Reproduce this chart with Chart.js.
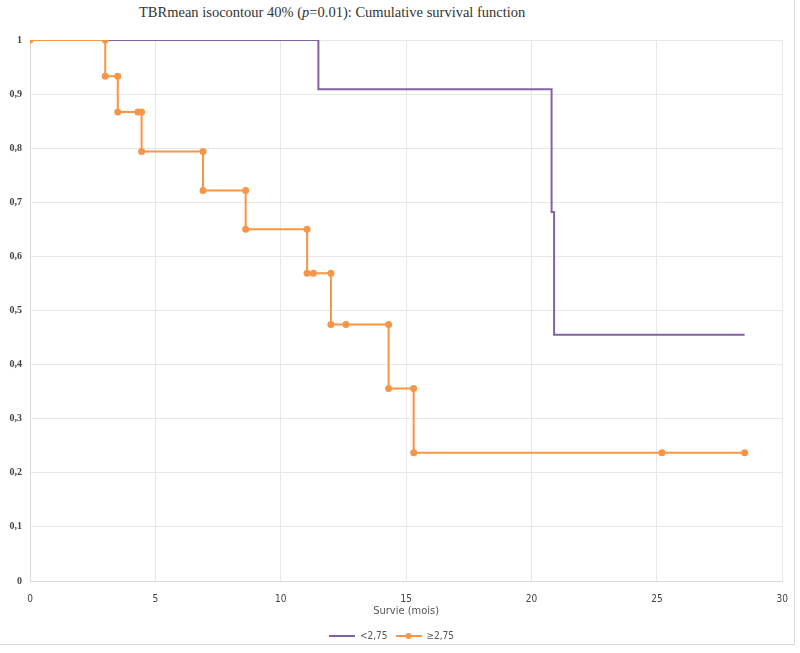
<!DOCTYPE html>
<html>
<head>
<meta charset="utf-8">
<script src="https://cdn.jsdelivr.net/npm/chart.js@4"></script>
<style>
  body { margin: 0; background: #fff; }
  #wrap { position: relative; width: 800px; height: 653px; }
  #frame { position: absolute; left: 0; top: 0; width: 795px; height: 645px; border-right: 1px solid #d9d9d9; border-bottom: 1px solid #d9d9d9; box-sizing: border-box; }
  #title { position: absolute; left: 139px; top: 4px; font-family: "Liberation Serif", "DejaVu Serif", serif; font-size: 14.5px; color: #333; white-space: nowrap; }
  canvas { position: absolute; left: 0; top: 0; }
</style>
</head>
<body>
<div id="wrap">
  <div id="frame"></div>
  <div id="title">TBRmean isocontour 40% (<i>p</i>=0.01): Cumulative survival function</div>
  <canvas id="kmChart" width="800" height="653"></canvas>
</div>
<script>
// Kaplan-Meier steps, corners listed explicitly (months, survival)
const lowTimes = [0, 11.5, 11.5, 20.8, 20.8, 20.9, 20.9, 28.5];
const lowSurv = [1, 1, 0.909, 0.909, 0.682, 0.682, 0.455, 0.455];

const highTimes = [0, 3.0, 3.0, 3.5, 3.5, 4.3, 4.45, 4.45, 6.9, 6.9, 8.6, 8.6, 11.05, 11.05, 11.3, 12.0, 12.0, 12.6, 14.3, 14.3, 15.3, 15.3, 25.2, 28.5];
const highSurv = [1, 1, 0.933, 0.933, 0.867, 0.867, 0.867, 0.794, 0.794, 0.722, 0.722, 0.65, 0.65, 0.569, 0.569, 0.569, 0.474, 0.474, 0.474, 0.356, 0.356, 0.237, 0.237, 0.237];

const seriesLabels = ['<2,75', '\u22652,75'];
const seriesColors = ['#8064A2', '#F79646'];

function toPoints(xs, ys) {
    return xs.map((x, i) => ({ x: x, y: ys[i] }));
}

// little legend swatches: plain line, and line with a dot
function makeSwatch(color, withDot) {
    const c = document.createElement('canvas');
    c.width = 26;
    c.height = 8;
    const g = c.getContext('2d');
    g.strokeStyle = color;
    g.lineWidth = 2;
    g.beginPath();
    g.moveTo(0, 4);
    g.lineTo(26, 4);
    g.stroke();
    if (withDot) {
        g.fillStyle = color;
        g.beginPath();
        g.arc(13, 4, 3, 0, Math.PI * 2);
        g.fill();
    }
    return c;
}
const swatches = [makeSwatch(seriesColors[0], false), makeSwatch(seriesColors[1], true)];

const narrowFont = '"Liberation Sans Narrow", "DejaVu Sans Condensed", sans-serif';

const ctx = document.getElementById('kmChart').getContext('2d');
new Chart(ctx, {
    type: 'line',
    data: {
        datasets: [{
            label: seriesLabels[0],
            data: toPoints(lowTimes, lowSurv),
            borderColor: seriesColors[0],
            backgroundColor: seriesColors[0],
            borderWidth: 2,
            pointRadius: 0,
            order: 1
        }, {
            label: seriesLabels[1],
            data: toPoints(highTimes, highSurv),
            borderColor: seriesColors[1],
            backgroundColor: seriesColors[1],
            borderWidth: 2,
            pointRadius: 3.5,
            pointBorderWidth: 0,
            order: 0
        }]
    },
    options: {
        responsive: false,
        animation: false,
        layout: {
            padding: { left: 0, right: 17, top: 40, bottom: 2 }
        },
        plugins: {
            legend: {
                position: 'bottom',
                labels: {
                    usePointStyle: true,
                    pointStyleWidth: 26,
                    padding: 8,
                    color: '#555',
                    font: { family: narrowFont, size: 10 },
                    sort: (a, b) => a.datasetIndex - b.datasetIndex,
                    generateLabels: function(chart) {
                        const items = Chart.defaults.plugins.legend.labels.generateLabels(chart);
                        items.forEach(item => { item.pointStyle = swatches[item.datasetIndex]; });
                        return items;
                    }
                }
            },
            tooltip: { enabled: false }
        },
        scales: {
            x: {
                type: 'linear',
                min: 0,
                max: 30,
                afterFit: function(scale) { scale.height = 42; },
                ticks: {
                    stepSize: 5,
                    color: '#444',
                    padding: 12,
                    font: { family: narrowFont, size: 10 }
                },
                grid: { color: '#e8e8e8', drawTicks: false },
                border: { color: '#d9d9d9' },
                title: {
                    display: true,
                    text: 'Survie (mois)',
                    color: '#555',
                    padding: { top: 0, bottom: 5 },
                    font: { family: narrowFont, size: 11 }
                }
            },
            y: {
                min: 0,
                max: 1,
                afterFit: function(scale) { scale.width = 30; },
                ticks: {
                    stepSize: 0.1,
                    color: '#444',
                    padding: 8,
                    font: { family: '"Liberation Serif", "DejaVu Serif", serif', size: 10, weight: 'bold' },
                    callback: v => String(Math.round(v * 10) / 10).replace('.', ',')
                },
                grid: { color: '#e8e8e8', drawTicks: false },
                border: { color: '#d9d9d9' }
            }
        }
    }
});
</script>
</body>
</html>
